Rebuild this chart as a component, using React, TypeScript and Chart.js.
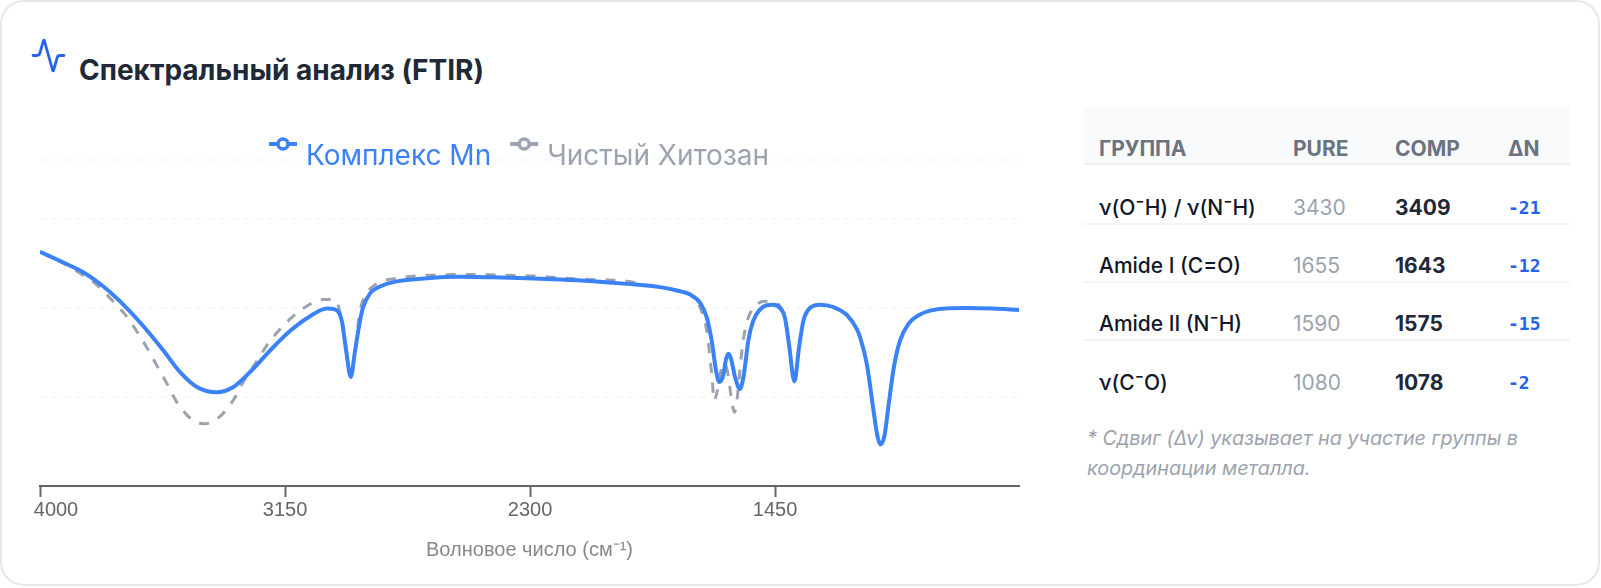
import React, { useEffect, useRef } from "react";
import { Chart, registerables } from "chart.js";

Chart.register(...registerables);

const titleText = "Спектральный анализ (FTIR)";
const complexLabel = "Комплекс Mn";
const pureLabel = "Чистый Хитозан";
const axisTitle = "Волновое число (см⁻¹)";
const xTicks = [4000, 3150, 2300, 1450];
const yTicks = [0, 30, 60, 90, 110];

const complexWave = [4000, 3919, 3850, 3780, 3711, 3642, 3572, 3514, 3456, 3387, 3329, 3272, 3202, 3133, 3063, 3005, 2977, 2953, 2938, 2922, 2907, 2890, 2880, 2855, 2821, 2775, 2657, 2543, 2429, 2311, 2196, 2082, 1964, 1849, 1780, 1745, 1710, 1687, 1670, 1655, 1644, 1630, 1620, 1612, 1603, 1589, 1572, 1558, 1543, 1526, 1502, 1479, 1456, 1433, 1416, 1402, 1383, 1367, 1352, 1329, 1294, 1248, 1201, 1167, 1155, 1132, 1109, 1095, 1084, 1071, 1057, 1038, 1017, 988, 947, 890, 797, 693, 604];
const complexT = [79, 75.4, 72.1, 67.3, 61.2, 54, 45.7, 38.4, 33.4, 31.6, 33.4, 38.4, 45.7, 52.3, 57.3, 59.9, 59.6, 55.7, 45.7, 36.8, 45.7, 55.7, 60.1, 65, 67.3, 68.8, 70.1, 70.6, 70.4, 70.1, 69.7, 69.1, 68.2, 67.1, 65.7, 64.6, 61.8, 56.8, 49, 39, 35.1, 37.3, 42.9, 44.6, 42.9, 36.8, 32.7, 37.9, 49, 55.7, 59.6, 61, 61.2, 60.1, 56.8, 47.9, 35.3, 46.8, 55.7, 60.1, 61.2, 60.4, 57.7, 53, 50.1, 41.2, 25.7, 16.8, 14, 16.8, 26.8, 40.1, 49, 54.6, 57.9, 59.6, 60.1, 59.9, 59.4];

const pureWave = [4000, 3919, 3861, 3803, 3757, 3705, 3665, 3630, 3595, 3560, 3526, 3491, 3456, 3428, 3399, 3364, 3329, 3295, 3254, 3214, 3173, 3127, 3075, 3017, 2988, 2965, 2942, 2922, 2907, 2890, 2873, 2832, 2763, 2693, 2624, 2555, 2485, 2416, 2346, 2277, 2208, 2138, 2069, 1943, 1919, 1849, 1780, 1745, 1705, 1687, 1676, 1668, 1662, 1650, 1635, 1624, 1612, 1601, 1591, 1581, 1569, 1558, 1543, 1514, 1485, 1456, 1433, 1416, 1402, 1383, 1367, 1352, 1329, 1294, 1248, 1201, 1167, 1155, 1132, 1109, 1095, 1084, 1071, 1057, 1038, 1017, 988, 947, 890, 797, 693, 604];
const pureT = [79, 75.2, 71.8, 67.9, 63.4, 57.9, 52.3, 46.8, 40.7, 34.6, 28.4, 24, 21.4, 21, 21.8, 24.6, 29, 35.1, 41.2, 47.3, 52.3, 56.8, 60.7, 62.9, 62.9, 60.7, 49, 37.3, 45.7, 59, 64, 68.2, 70.1, 70.9, 71.2, 71.4, 71.4, 71.2, 71, 70.8, 70.3, 69.9, 69.6, 68.8, 68.1, 67.1, 65.7, 64.8, 59, 52.3, 43.4, 35.7, 28.8, 32.3, 40.1, 41.2, 36.8, 29, 24.9, 30.1, 42.3, 50.7, 56.8, 61.2, 62.3, 61.8, 60.7, 56.8, 47.9, 35.3, 46.8, 55.7, 60.1, 61.2, 60.4, 57.7, 53, 50.1, 41.2, 25.7, 16.8, 14, 16.8, 26.8, 40.1, 49, 54.6, 57.9, 59.6, 60.1, 59.9, 59.4];

const groups = ["ν(O⁻H) / ν(N⁻H)", "Amide I (C=O)", "Amide II (N⁻H)", "ν(C⁻O)"];
const pureValues = [3430, 1655, 1590, 1080];
const compValues = [3409, 1643, 1575, 1078];
const deltaValues = [-21, -12, -15, -2];
const tableHead = ["Группа", "Pure", "Comp", "Δν"];
const footnote = "* Сдвиг (Δν) указывает на участие группы в координации металла.";

const BLUE = "#3b82f6";
const GREY = "#9ca3af";
const UI = "Inter, sans-serif";

function marker(color: string) {
  const c = document.createElement("canvas");
  c.width = 30;
  c.height = 40;
  const g = c.getContext("2d")!;
  g.strokeStyle = color;
  g.lineWidth = 4;
  g.beginPath();
  g.moveTo(1, 7);
  g.lineTo(29, 7);
  g.stroke();
  g.beginPath();
  g.arc(15, 7, 5, 0, Math.PI * 2);
  g.fillStyle = "#fff";
  g.fill();
  g.lineWidth = 3.5;
  g.stroke();
  return c;
}

const layoutFix = {
  id: "layoutFix",
  afterLayout(chart: any) {
    const l = chart.legend;
    l.top = 24;
    l.bottom = 120;
    l.right = l.right - 16;
  },
  beforeDraw(chart: any) {
    const items = chart.scales.x.getLabelItems();
    if (items[0]) {
      const t = items[0].options.translation;
      items[0].options.translation = [t[0] + 16, t[1]];
    }
  },
};

function ChartBox() {
  const ref = useRef<HTMLCanvasElement>(null);
  useEffect(() => {
    const chart = new Chart(ref.current!, {
      type: "line",
      data: {
        datasets: [
          {
            label: complexLabel,
            data: complexWave.map((x, i) => ({ x, y: complexT[i] })),
            borderColor: BLUE,
            borderWidth: 4,
            pointRadius: 0,
            cubicInterpolationMode: "monotone",
            order: 0,
          },
          {
            label: pureLabel,
            data: pureWave.map((x, i) => ({ x, y: pureT[i] })),
            borderColor: GREY,
            borderWidth: 3,
            borderDash: [10, 10],
            pointRadius: 0,
            cubicInterpolationMode: "monotone",
            order: 1,
          },
        ],
      },
      options: {
        animation: false,
        responsive: false,
        layout: { padding: { left: 40, right: 23, top: 3, bottom: 0 } },
        plugins: {
          tooltip: { enabled: false },
          legend: {
            display: true,
            position: "top",
            labels: {
              usePointStyle: true,
              pointStyleWidth: 18,
              padding: 24,
              font: { family: UI, size: 28 },
              generateLabels: (c: any) =>
                c.data.datasets.map((d: any, i: number) => ({
                  text: d.label,
                  datasetIndex: i,
                  fontColor: d.borderColor,
                  pointStyle: marker(d.borderColor),
                  hidden: false,
                  lineWidth: 0,
                })),
            },
          },
        },
        scales: {
          x: {
            type: "linear",
            reverse: true,
            min: 604,
            max: 4000,
            afterBuildTicks: (s: any) => {
              s.ticks = xTicks.map((value) => ({ value }));
            },
            grid: { drawOnChartArea: false, tickColor: "#666666", tickLength: 11, tickWidth: 2 },
            border: { display: true, color: "#666666", width: 2 },
            ticks: {
              autoSkip: false,
              maxRotation: 0,
              padding: 1,
              color: "#666666",
              font: { family: "'Liberation Sans'", size: 20 },
              callback: (v: any) => String(v),
            },
            title: {
              display: true,
              text: axisTitle,
              color: "#888888",
              font: { family: "'Liberation Sans'", size: 20 },
              padding: { top: 15, bottom: 0 },
            },
          },
          y: {
            type: "linear",
            min: 0,
            max: 110,
            afterBuildTicks: (s: any) => {
              s.ticks = yTicks.map((value) => ({ value }));
            },
            ticks: { display: false },
            grid: { color: "#f6f7f8", lineWidth: 2, drawTicks: false },
            border: { display: false, dash: [6, 6] },
          },
        },
      },
      plugins: [layoutFix],
    } as any);
    return () => chart.destroy();
  }, []);
  return (
    <canvas
      ref={ref}
      width={1042}
      height={467}
      style={{ position: "absolute", left: 0, top: 95, width: 1042, height: 467 }}
    />
  );
}

const cols = [194, 102, 113, 77];
const rowHeights = [60, 58, 57.5, 59.5];
const cell: React.CSSProperties = { padding: "0 0 0 15px", whiteSpace: "nowrap", textAlign: "left" };

export default function App() {
  return (
    <div
      style={{
        position: "fixed",
        left: 0,
        top: 0,
        width: 1601,
        height: 588,
        background: "#fff",
        overflow: "hidden",
        fontFamily: UI,
      }}
    >
      <div
        style={{
          position: "absolute",
          left: 0,
          top: 0,
          width: 1600,
          height: 586,
          boxSizing: "border-box",
          border: "2px solid #e5e7eb",
          borderRadius: 24,
        }}
      />
      <svg
        width={37}
        height={37}
        viewBox="0 0 24 24"
        fill="none"
        stroke="#2563eb"
        strokeWidth={1.8}
        strokeLinecap="round"
        strokeLinejoin="round"
        style={{ position: "absolute", left: 29.5, top: 37 }}
      >
        <path d="M22 12h-2.48a2 2 0 0 0-1.93 1.46l-2.35 8.36a.25.25 0 0 1-.48 0L9.24 2.18a.25.25 0 0 0-.48 0l-2.35 8.36A2 2 0 0 1 4.49 12H2" />
      </svg>
      <div
        style={{
          position: "absolute",
          left: 79,
          top: 53,
          fontSize: 28,
          lineHeight: "34px",
          fontWeight: 700,
          color: "#1f2937",
          whiteSpace: "nowrap",
        }}
      >
        {titleText}
      </div>
      <ChartBox />
      <table
        style={{
          position: "absolute",
          left: 1084,
          top: 107,
          width: 486,
          borderCollapse: "separate",
          borderSpacing: 0,
          tableLayout: "fixed",
        }}
      >
        <colgroup>
          {cols.map((w, i) => (
            <col key={i} style={{ width: w }} />
          ))}
        </colgroup>
        <thead>
          <tr style={{ background: "#f9fafb" }}>
            {tableHead.map((h) => (
              <th
                key={h}
                style={{
                  ...cell,
                  boxSizing: "content-box",
                  verticalAlign: "bottom",
                  paddingBottom: 0,
                  height: 56,
                  lineHeight: "28px",
                  fontSize: 21,
                  fontWeight: 700,
                  color: "#6b7280",
                  textTransform: "uppercase",
                  borderBottom: "2px solid #eef0f2",
                }}
              >
                {h}
              </th>
            ))}
          </tr>
        </thead>
        <tbody>
          {groups.map((g, i) => {
            const b = i < groups.length - 1 ? "2px solid #f3f4f6" : "2px solid transparent";
            const td: React.CSSProperties = {
              ...cell,
              height: rowHeights[i],
              padding: "20px 0 1px 15px",
              boxSizing: "border-box",
              lineHeight: "28px",
              fontSize: 21,
              borderBottom: b,
              verticalAlign: "bottom",
            };
            return (
              <tr key={g} style={{ height: rowHeights[i] }}>
                <td style={{ ...td, fontWeight: 500, color: "#111827" }}>{g}</td>
                <td style={{ ...td, color: GREY }}>{pureValues[i]}</td>
                <td style={{ ...td, fontWeight: 700, color: "#1f2937" }}>{compValues[i]}</td>
                <td style={{ ...td, fontFamily: "'DejaVu Sans Mono'", fontSize: 18, fontWeight: 700, color: "#2563eb", paddingBottom: 1 }}>
                  {deltaValues[i]}
                </td>
              </tr>
            );
          })}
        </tbody>
      </table>
      <div
        style={{
          position: "absolute",
          left: 1087,
          top: 423,
          width: 470,
          fontSize: 19.8,
          lineHeight: "30px",
          fontStyle: "italic",
          color: GREY,
        }}
      >
        {footnote}
      </div>
    </div>
  );
}
